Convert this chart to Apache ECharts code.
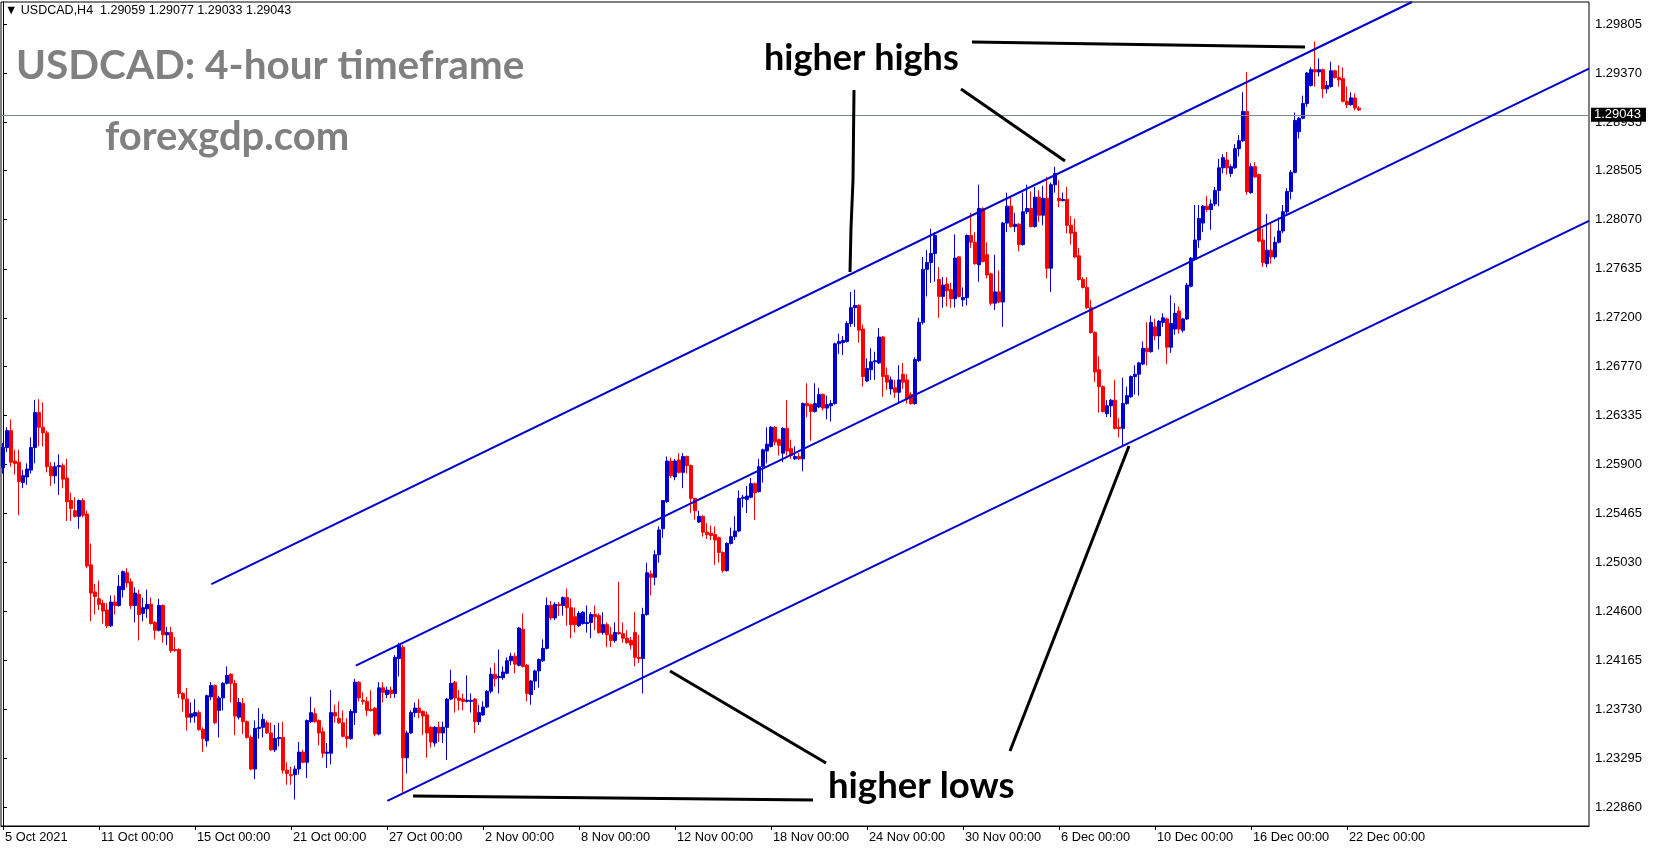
<!DOCTYPE html>
<html><head><meta charset="utf-8">
<script src="https://cdn.jsdelivr.net/npm/echarts@6/dist/echarts.min.js"></script>
<style>html,body{margin:0;padding:0;background:#fff}#c{width:1653px;height:850px}</style>
</head><body><div id="c"></div>
<script>
// ---------- data ----------
const headerText = '\u25BC USDCAD,H4  1.29059 1.29077 1.29033 1.29043';
const titleText = 'USDCAD: 4-hour timeframe';
const siteText = 'forexgdp.com';
const noteHighs = 'higher highs';
const noteLows = 'higher lows';

const xTickLabels = ['5 Oct 2021','11 Oct 00:00','15 Oct 00:00','21 Oct 00:00','27 Oct 00:00','2 Nov 00:00','8 Nov 00:00','12 Nov 00:00','18 Nov 00:00','24 Nov 00:00','30 Nov 00:00','6 Dec 00:00','10 Dec 00:00','16 Dec 00:00','22 Dec 00:00'];
const barsPerTick = 24;
const totalSlots = 397;

const yTickLabels = ['1.22860','1.23295','1.23730','1.24165','1.24600','1.25030','1.25465','1.25900','1.26335','1.26770','1.27200','1.27635','1.28070','1.28505','1.28935','1.29370','1.29805'];
const yMin = 1.22695, yMax = 1.30000;
const lastPrice = 1.29043;

// open, close, low, high  (4-hour bars)
const ohlc = [
[1.2587,1.2605,1.2582,1.2609],[1.2605,1.2620,1.2601,1.2623],[1.2620,1.2592,1.2588,1.2630],[1.2593,1.2591,1.2581,1.2603],
[1.2592,1.2575,1.2545,1.2603],[1.2574,1.2580,1.2569,1.2585],[1.2579,1.2586,1.2572,1.2591],[1.2585,1.2605,1.2582,1.2614],
[1.2605,1.2636,1.2591,1.2647],[1.2636,1.2623,1.2606,1.2648],[1.2623,1.2618,1.2606,1.2645],[1.2618,1.2588,1.2583,1.2620],
[1.2588,1.2580,1.2571,1.2592],[1.2580,1.2588,1.2573,1.2592],[1.2588,1.2589,1.2563,1.2599],[1.2589,1.2577,1.2569,1.2591],
[1.2578,1.2557,1.2540,1.2595],[1.2558,1.2551,1.2540,1.2565],[1.2549,1.2544,1.2543,1.2561],[1.2544,1.2558,1.2533,1.2559],
[1.2558,1.2545,1.2543,1.2560],[1.2546,1.2500,1.2498,1.2549],[1.2501,1.2476,1.2451,1.2520],[1.2477,1.2473,1.2457,1.2484],
[1.2471,1.2466,1.2461,1.2487],[1.2467,1.2460,1.2449,1.2470],[1.2461,1.2447,1.2445,1.2467],[1.2447,1.2468,1.2446,1.2474],
[1.2468,1.2465,1.2457,1.2474],[1.2465,1.2482,1.2464,1.2492],[1.2479,1.2495,1.2472,1.2496],[1.2494,1.2485,1.2481,1.2498],
[1.2486,1.2465,1.2462,1.2489],[1.2465,1.2476,1.2450,1.2481],[1.2475,1.2457,1.2434,1.2479],[1.2458,1.2463,1.2451,1.2472],
[1.2462,1.2466,1.2454,1.2479],[1.2466,1.2449,1.2448,1.2472],[1.2450,1.2443,1.2435,1.2451],[1.2443,1.2465,1.2442,1.2471],
[1.2465,1.2439,1.2432,1.2466],[1.2439,1.2441,1.2430,1.2446],[1.2441,1.2425,1.2423,1.2446],[1.2426,1.2425,1.2424,1.2437],
[1.2426,1.2387,1.2383,1.2427],[1.2387,1.2382,1.2371,1.2388],[1.2382,1.2366,1.2354,1.2392],[1.2366,1.2369,1.2361,1.2379],
[1.2367,1.2370,1.2361,1.2382],[1.2370,1.2355,1.2354,1.2372],[1.2355,1.2347,1.2335,1.2357],[1.2345,1.2385,1.2340,1.2386],
[1.2384,1.2394,1.2381,1.2397],[1.2394,1.2361,1.2360,1.2395],[1.2372,1.2383,1.2348,1.2385],[1.2383,1.2396,1.2372,1.2397],
[1.2396,1.2403,1.2395,1.2411],[1.2404,1.2396,1.2379,1.2405],[1.2396,1.2367,1.2350,1.2399],[1.2366,1.2379,1.2364,1.2383],
[1.2378,1.2362,1.2351,1.2383],[1.2362,1.2348,1.2347,1.2363],[1.2348,1.2320,1.2319,1.2350],[1.2320,1.2356,1.2311,1.2363],
[1.2356,1.2357,1.2347,1.2374],[1.2357,1.2364,1.2348,1.2369],[1.2361,1.2352,1.2351,1.2363],[1.2352,1.2337,1.2336,1.2361],
[1.2337,1.2347,1.2335,1.2359],[1.2347,1.2348,1.2340,1.2361],[1.2348,1.2319,1.2316,1.2362],[1.2319,1.2316,1.2306,1.2326],
[1.2315,1.2314,1.2306,1.2322],[1.2315,1.2320,1.2293,1.2323],[1.2320,1.2335,1.2315,1.2344],[1.2335,1.2326,1.2325,1.2337],
[1.2326,1.2363,1.2312,1.2364],[1.2362,1.2370,1.2361,1.2384],[1.2369,1.2362,1.2361,1.2374],[1.2363,1.2352,1.2341,1.2364],
[1.2353,1.2334,1.2330,1.2357],[1.2334,1.2335,1.2321,1.2343],[1.2334,1.2370,1.2324,1.2390],[1.2370,1.2367,1.2361,1.2377],
[1.2365,1.2361,1.2360,1.2380],[1.2361,1.2349,1.2348,1.2372],[1.2349,1.2347,1.2339,1.2365],[1.2347,1.2371,1.2346,1.2373],
[1.2370,1.2397,1.2359,1.2400],[1.2397,1.2383,1.2380,1.2398],[1.2381,1.2380,1.2377,1.2388],[1.2380,1.2372,1.2367,1.2384],
[1.2373,1.2372,1.2371,1.2390],[1.2374,1.2351,1.2349,1.2375],[1.2351,1.2392,1.2350,1.2397],[1.2392,1.2388,1.2379,1.2397],
[1.2386,1.2390,1.2383,1.2393],[1.2390,1.2387,1.2383,1.2393],[1.2387,1.2419,1.2383,1.2421],[1.2418,1.2430,1.2402,1.2432],
[1.2428,1.2330,1.2299,1.2430],[1.2330,1.2352,1.2316,1.2354],[1.2352,1.2370,1.2351,1.2372],[1.2370,1.2374,1.2366,1.2379],
[1.2374,1.2370,1.2365,1.2382],[1.2371,1.2367,1.2350,1.2372],[1.2368,1.2352,1.2330,1.2371],[1.2357,1.2344,1.2339,1.2358],
[1.2343,1.2357,1.2340,1.2358],[1.2357,1.2352,1.2344,1.2362],[1.2352,1.2357,1.2343,1.2362],[1.2357,1.2382,1.2328,1.2383],
[1.2382,1.2396,1.2381,1.2408],[1.2397,1.2383,1.2370,1.2398],[1.2383,1.2381,1.2372,1.2390],[1.2382,1.2380,1.2372,1.2387],
[1.2380,1.2381,1.2379,1.2403],[1.2380,1.2381,1.2370,1.2387],[1.2382,1.2362,1.2352,1.2383],[1.2362,1.2370,1.2359,1.2377],
[1.2368,1.2375,1.2367,1.2380],[1.2375,1.2389,1.2374,1.2390],[1.2389,1.2404,1.2387,1.2410],[1.2404,1.2400,1.2393,1.2414],
[1.2401,1.2402,1.2387,1.2426],[1.2401,1.2406,1.2399,1.2411],[1.2405,1.2416,1.2404,1.2419],[1.2416,1.2420,1.2412,1.2423],
[1.2420,1.2413,1.2405,1.2423],[1.2412,1.2445,1.2411,1.2446],[1.2444,1.2411,1.2410,1.2458],[1.2412,1.2387,1.2380,1.2413],
[1.2386,1.2398,1.2377,1.2399],[1.2398,1.2407,1.2390,1.2408],[1.2407,1.2417,1.2392,1.2418],[1.2416,1.2427,1.2415,1.2435],
[1.2427,1.2465,1.2426,1.2472],[1.2465,1.2454,1.2452,1.2469],[1.2454,1.2466,1.2452,1.2468],[1.2466,1.2465,1.2456,1.2468],
[1.2465,1.2472,1.2456,1.2473],[1.2472,1.2463,1.2447,1.2480],[1.2463,1.2448,1.2436,1.2471],[1.2455,1.2448,1.2441,1.2463],
[1.2447,1.2458,1.2446,1.2460],[1.2449,1.2459,1.2448,1.2460],[1.2449,1.2450,1.2441,1.2465],[1.2450,1.2457,1.2436,1.2459],
[1.2457,1.2455,1.2443,1.2465],[1.2456,1.2441,1.2440,1.2458],[1.2441,1.2448,1.2439,1.2459],[1.2448,1.2439,1.2428,1.2450],
[1.2439,1.2434,1.2428,1.2446],[1.2434,1.2441,1.2432,1.2450],[1.2441,1.2440,1.2439,1.2486],[1.2440,1.2436,1.2432,1.2450],
[1.2436,1.2432,1.2431,1.2443],[1.2434,1.2430,1.2426,1.2437],[1.2441,1.2419,1.2411,1.2459],[1.2419,1.2418,1.2414,1.2439],
[1.2418,1.2457,1.2387,1.2463],[1.2457,1.2494,1.2456,1.2503],[1.2493,1.2490,1.2474,1.2496],[1.2490,1.2510,1.2483,1.2514],
[1.2510,1.2532,1.2503,1.2535],[1.2533,1.2558,1.2525,1.2558],[1.2557,1.2593,1.2556,1.2597],[1.2593,1.2580,1.2578,1.2596],
[1.2579,1.2593,1.2576,1.2595],[1.2594,1.2583,1.2582,1.2600],[1.2583,1.2597,1.2569,1.2600],[1.2597,1.2589,1.2582,1.2598],
[1.2589,1.2560,1.2547,1.2590],[1.2560,1.2549,1.2541,1.2560],[1.2539,1.2544,1.2538,1.2549],[1.2544,1.2530,1.2526,1.2545],
[1.2530,1.2528,1.2524,1.2538],[1.2529,1.2527,1.2523,1.2536],[1.2528,1.2523,1.2501,1.2535],[1.2525,1.2512,1.2503,1.2526],
[1.2512,1.2496,1.2494,1.2513],[1.2496,1.2520,1.2495,1.2521],[1.2520,1.2526,1.2519,1.2534],[1.2526,1.2531,1.2523,1.2544],
[1.2531,1.2560,1.2530,1.2567],[1.2560,1.2561,1.2552,1.2563],[1.2559,1.2562,1.2547,1.2571],[1.2561,1.2573,1.2560,1.2578],
[1.2573,1.2565,1.2541,1.2574],[1.2566,1.2588,1.2565,1.2595],[1.2588,1.2603,1.2574,1.2604],[1.2602,1.2608,1.2591,1.2623],
[1.2606,1.2623,1.2605,1.2624],[1.2623,1.2610,1.2607,1.2624],[1.2612,1.2607,1.2598,1.2613],[1.2600,1.2622,1.2592,1.2623],
[1.2622,1.2602,1.2598,1.2647],[1.2604,1.2598,1.2595,1.2612],[1.2595,1.2597,1.2594,1.2606],[1.2597,1.2595,1.2594,1.2600],
[1.2595,1.2644,1.2584,1.2645],[1.2644,1.2642,1.2632,1.2662],[1.2643,1.2637,1.2611,1.2644],[1.2637,1.2644,1.2636,1.2662],
[1.2641,1.2652,1.2640,1.2658],[1.2652,1.2640,1.2638,1.2653],[1.2640,1.2643,1.2630,1.2651],[1.2642,1.2644,1.2628,1.2647],
[1.2644,1.2697,1.2643,1.2698],[1.2697,1.2699,1.2688,1.2706],[1.2698,1.2700,1.2687,1.2704],[1.2699,1.2715,1.2698,1.2717],
[1.2715,1.2729,1.2712,1.2743],[1.2729,1.2731,1.2712,1.2745],[1.2731,1.2709,1.2698,1.2732],[1.2710,1.2668,1.2659,1.2714],
[1.2664,1.2675,1.2663,1.2684],[1.2674,1.2681,1.2665,1.2693],[1.2681,1.2682,1.2665,1.2690],[1.2680,1.2703,1.2679,1.2711],
[1.2703,1.2668,1.2650,1.2704],[1.2669,1.2663,1.2656,1.2676],[1.2657,1.2665,1.2652,1.2668],[1.2658,1.2654,1.2649,1.2665],
[1.2654,1.2665,1.2644,1.2678],[1.2670,1.2663,1.2657,1.2680],[1.2665,1.2648,1.2644,1.2670],[1.2652,1.2644,1.2643,1.2654],
[1.2644,1.2683,1.2643,1.2685],[1.2682,1.2716,1.2681,1.2720],[1.2716,1.2763,1.2714,1.2774],[1.2763,1.2769,1.2739,1.2780],
[1.2769,1.2777,1.2751,1.2799],[1.2777,1.2793,1.2752,1.2796],[1.2754,1.2739,1.2720,1.2765],[1.2739,1.2749,1.2729,1.2756],
[1.2750,1.2744,1.2730,1.2756],[1.2745,1.2737,1.2729,1.2751],[1.2737,1.2773,1.2729,1.2794],[1.2774,1.2739,1.2738,1.2775],
[1.2736,1.2738,1.2730,1.2747],[1.2738,1.2793,1.2731,1.2794],[1.2793,1.2787,1.2782,1.2813],[1.2787,1.2768,1.2767,1.2796],
[1.2767,1.2817,1.2752,1.2838],[1.2817,1.2770,1.2769,1.2818],[1.2776,1.2758,1.2755,1.2787],[1.2759,1.2733,1.2731,1.2760],
[1.2733,1.2743,1.2727,1.2776],[1.2743,1.2734,1.2733,1.2762],[1.2734,1.2804,1.2712,1.2805],[1.2804,1.2819,1.2796,1.2831],
[1.2819,1.2801,1.2800,1.2827],[1.2801,1.2803,1.2796,1.2813],[1.2803,1.2785,1.2779,1.2804],[1.2785,1.2814,1.2784,1.2831],
[1.2814,1.2817,1.2812,1.2838],[1.2817,1.2801,1.2800,1.2832],[1.2801,1.2827,1.2800,1.2836],[1.2827,1.2811,1.2805,1.2833],
[1.2811,1.2826,1.2802,1.2837],[1.2826,1.2764,1.2755,1.2845],[1.2764,1.2838,1.2743,1.2840],[1.2838,1.2848,1.2831,1.2854],
[1.2826,1.2824,1.2818,1.2842],[1.2824,1.2825,1.2823,1.2831],[1.2825,1.2802,1.2795,1.2836],[1.2802,1.2795,1.2785,1.2810],
[1.2796,1.2774,1.2773,1.2808],[1.2775,1.2754,1.2753,1.2782],[1.2754,1.2747,1.2746,1.2756],[1.2747,1.2729,1.2728,1.2756],
[1.2729,1.2707,1.2706,1.2736],[1.2707,1.2672,1.2663,1.2708],[1.2674,1.2659,1.2636,1.2686],[1.2659,1.2637,1.2636,1.2660],
[1.2635,1.2642,1.2632,1.2647],[1.2642,1.2647,1.2632,1.2648],[1.2647,1.2622,1.2621,1.2665],[1.2623,1.2622,1.2614,1.2631],
[1.2622,1.2644,1.2606,1.2667],[1.2644,1.2651,1.2643,1.2659],[1.2650,1.2668,1.2649,1.2669],[1.2668,1.2670,1.2652,1.2678],
[1.2670,1.2680,1.2651,1.2681],[1.2679,1.2693,1.2678,1.2699],[1.2693,1.2690,1.2678,1.2716],[1.2690,1.2716,1.2689,1.2722],
[1.2712,1.2704,1.2700,1.2719],[1.2704,1.2717,1.2692,1.2718],[1.2716,1.2720,1.2712,1.2724],[1.2719,1.2694,1.2679,1.2720],
[1.2694,1.2715,1.2689,1.2740],[1.2710,1.2724,1.2705,1.2733],[1.2726,1.2710,1.2706,1.2730],[1.2709,1.2719,1.2707,1.2720],
[1.2719,1.2749,1.2718,1.2751],[1.2748,1.2773,1.2747,1.2774],[1.2772,1.2789,1.2771,1.2820],[1.2789,1.2808,1.2782,1.2820],
[1.2804,1.2819,1.2796,1.2820],[1.2819,1.2816,1.2814,1.2828],[1.2816,1.2821,1.2798,1.2825],[1.2821,1.2833,1.2819,1.2836],
[1.2833,1.2853,1.2819,1.2861],[1.2853,1.2862,1.2848,1.2865],[1.2860,1.2853,1.2847,1.2867],[1.2848,1.2854,1.2845,1.2856],
[1.2853,1.2870,1.2852,1.2874],[1.2870,1.2877,1.2863,1.2882],[1.2877,1.2903,1.2876,1.2920],[1.2903,1.2832,1.2829,1.2938],
[1.2831,1.2854,1.2830,1.2857],[1.2854,1.2845,1.2844,1.2858],[1.2847,1.2788,1.2787,1.2848],[1.2789,1.2769,1.2765,1.2799],
[1.2768,1.2780,1.2765,1.2812],[1.2780,1.2774,1.2768,1.2804],[1.2774,1.2787,1.2772,1.2792],[1.2787,1.2797,1.2786,1.2809],
[1.2797,1.2814,1.2795,1.2820],[1.2814,1.2832,1.2812,1.2835],[1.2832,1.2849,1.2825,1.2851],[1.2849,1.2895,1.2848,1.2902],
[1.2885,1.2897,1.2879,1.2898],[1.2897,1.2910,1.2896,1.2917],[1.2910,1.2937,1.2907,1.2938],[1.2926,1.2940,1.2925,1.2942],
[1.2940,1.2938,1.2925,1.2965],[1.2938,1.2940,1.2934,1.2950],[1.2940,1.2923,1.2915,1.2941],[1.2923,1.2926,1.2919,1.2930],
[1.2925,1.2939,1.2924,1.2947],[1.2939,1.2933,1.2932,1.2940],[1.2933,1.2931,1.2925,1.2944],[1.2932,1.2912,1.2911,1.2942],
[1.2912,1.2909,1.2906,1.2925],[1.2909,1.2915,1.2908,1.2920],[1.2915,1.2906,1.2904,1.2919],[1.29059,1.29043,1.29033,1.29077]
];

// drawn trend lines: [bar position, price]
const channelUpper  = [[52.1, 1.24840], [352.25, 1.30000]];
const channelMiddle = [[88.2, 1.24116], [396.5, 1.29410]];
const channelLower  = [[96.1, 1.22917], [396.5, 1.28059]];
const pointerHighsVertical = [[212.75, 1.29220], [212.5, 1.28422], [212.0, 1.27996], [211.75, 1.27606]];
const pointerHighsDiagonal = [[239.5, 1.29229], [265.5, 1.28590]];
const pointerHighsTop      = [[242.25, 1.29645], [325.5, 1.29601]];
const pointerLowsDiagonal1 = [[166.75, 1.24069], [205.75, 1.23254]];
const pointerLowsBottom    = [[102.5, 1.22961], [202.5, 1.22926]];
const pointerLowsDiagonal2 = [[281.5, 1.26064], [251.75, 1.23360]];

// ---------- chart ----------
const categories = Array.from({length: totalSlots}, (_, i) => String(i));
const yTickValues = yTickLabels.map(Number);
const isTick = (i) => i % barsPerTick === 0 && (i / barsPerTick) < xTickLabels.length;
const axisFont = '"Liberation Sans", Arial, sans-serif';
const BULL = '#0000cc', BEAR = '#ff0000';

function seg(data, color, width) {
  return {type: 'line', xAxisIndex: 1, yAxisIndex: 0, data: data, symbol: 'none', showSymbol: false,
    silent: true, animation: false, clip: true, z: 5, lineStyle: {color: color, width: width}};
}

const chart = echarts.init(document.getElementById('c'), null, {renderer: 'canvas'});
chart.setOption({
  animation: false,
  backgroundColor: '#ffffff',
  grid: {left: 1, right: 64, top: 2, bottom: 24, show: true, borderColor: '#000', borderWidth: 1, backgroundColor: 'transparent'},
  xAxis: [{
    type: 'category', data: categories, boundaryGap: true,
    axisLine: {show: true, onZero: false, lineStyle: {color: '#000', width: 1}},
    axisTick: {show: true, alignWithLabel: true, length: 4, interval: isTick, lineStyle: {color: '#000'}},
    axisLabel: {interval: isTick, formatter: (v, i) => xTickLabels[Math.round(Number(v) / barsPerTick)] || '',
      align: 'left', color: '#000', fontSize: 12.8, fontFamily: axisFont, margin: 5, padding: [0, 0, 0, 2]},
    splitLine: {show: false}
  }, {
    type: 'value', min: -0.5, max: totalSlots - 0.5, show: false
  }],
  yAxis: {
    type: 'value', position: 'right', min: yMin, max: yMax, scale: true,
    splitLine: {show: false},
    axisLine: {show: true, lineStyle: {color: '#000', width: 1}},
    axisTick: {show: true, length: 4, lineStyle: {color: '#000'}, customValues: yTickValues},
    axisLabel: {customValues: yTickValues, formatter: v => v.toFixed(5), color: '#000', fontSize: 13, fontFamily: axisFont, margin: 6}
  },
  series: [{
    type: 'candlestick', xAxisIndex: 0, yAxisIndex: 0, data: ohlc, barWidth: 3, silent: true, z: 3,
    itemStyle: {color: BULL, color0: BEAR, borderColor: BULL, borderColor0: BEAR, borderWidth: 1},
    markLine: {
      symbol: ['none', 'none'], silent: true, animation: false,
      data: [{yAxis: lastPrice}],
      lineStyle: {color: '#7a8896', width: 1, type: 'solid'},
      label: {show: true, position: 'end', distance: 2, formatter: lastPrice.toFixed(5), color: '#fff', backgroundColor: '#000',
        padding: [1, 5, 0, 3], fontSize: 13, fontFamily: axisFont}
    }
  },
  seg(channelUpper, '#0000cc', 2),
  seg(channelMiddle, '#0000cc', 2),
  seg(channelLower, '#0000cc', 2),
  seg(pointerHighsVertical, '#000', 3),
  seg(pointerHighsDiagonal, '#000', 3),
  seg(pointerHighsTop, '#000', 3),
  seg(pointerLowsDiagonal1, '#000', 3),
  seg(pointerLowsBottom, '#000', 3),
  seg(pointerLowsDiagonal2, '#000', 3)
  ],
  graphic: [
    {type: 'text', x: 5, y: 11, z: 10, style: {text: headerText, font: '12.5px "Liberation Sans", "DejaVu Sans", sans-serif', fill: '#000', verticalAlign: 'middle'}},
    {type: 'text', x: 16, y: 66, z: 10, style: {text: titleText, font: 'bold 40.5px Lato, "Open Sans", sans-serif', fill: '#808080', verticalAlign: 'middle'}},
    {type: 'text', x: 105, y: 137, z: 10, style: {text: siteText, font: 'bold 40px Lato, "Open Sans", sans-serif', fill: '#808080', verticalAlign: 'middle'}},
    {type: 'text', x: 764, y: 58, z: 10, style: {text: noteHighs, font: 'bold 36px Lato, "Open Sans", sans-serif', fill: '#000', verticalAlign: 'middle'}},
    {type: 'text', x: 828, y: 786, z: 10, style: {text: noteLows, font: 'bold 36.5px Lato, "Open Sans", sans-serif', fill: '#000', verticalAlign: 'middle'}}
  ]
});
</script></body></html>
